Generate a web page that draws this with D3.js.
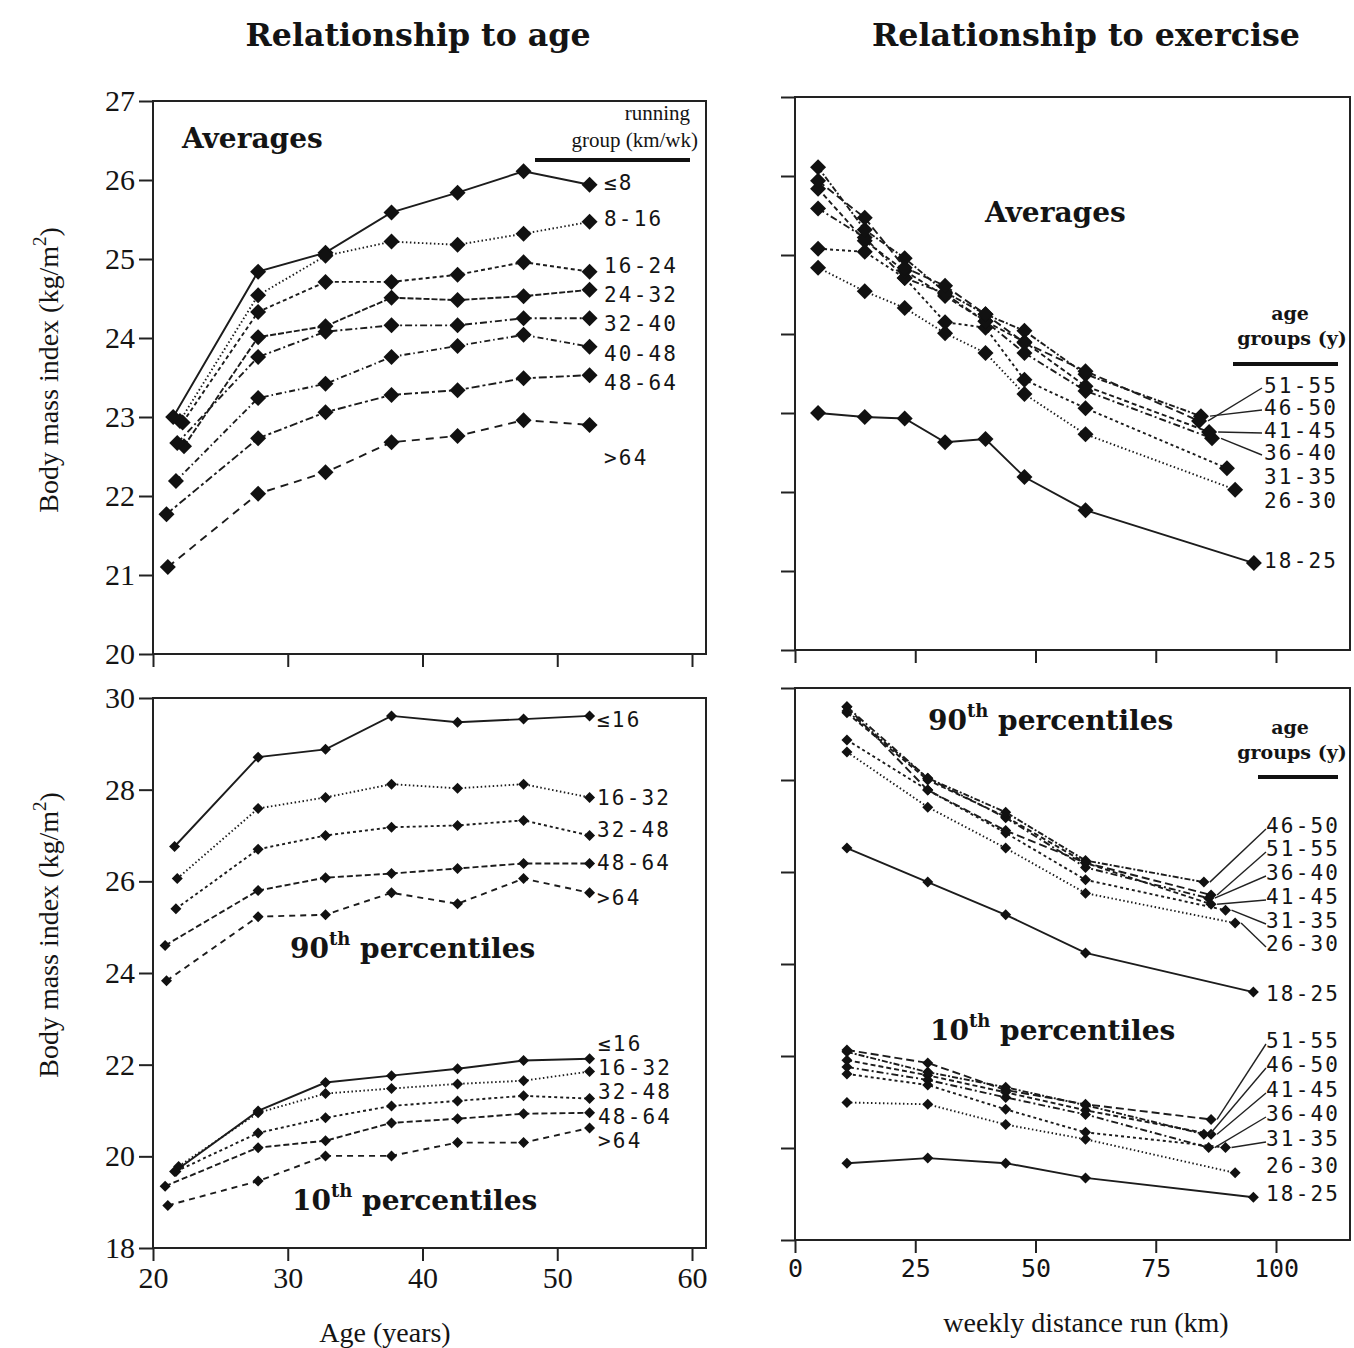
<!DOCTYPE html>
<html>
<head>
<meta charset="utf-8">
<style>
    body { margin: 0; background: #fff; }
    text { fill: #141414; }
    .tick text { font-family: "Liberation Serif", serif; font-size: 30px; }
    .tick line { stroke: #222; stroke-width: 2; }
    .xkm .tick text { font-family: "DejaVu Sans Mono", monospace; font-size: 25px; }
    .title { font-family: "DejaVu Serif", serif; font-weight: bold; font-size: 31px; }
    .ptitle { font-family: "DejaVu Serif", serif; font-weight: bold; font-size: 28px; }
    .grp { font-family: "DejaVu Sans Mono", monospace; font-size: 21px; letter-spacing: 2.2px; }
    .axt { font-family: "Liberation Serif", serif; font-size: 28px; }
    .hdr { font-family: "Liberation Serif", serif; font-size: 21px; }
    .hdrb { font-family: "DejaVu Serif", serif; font-weight: bold; font-size: 19px; }
</style>
<script src="https://d3js.org/d3.v7.min.js"></script>
</head>
<body>
<svg width="1354" height="1348"></svg>

<script>
// ---- data --------------------------------------------------------------
var ageGroups = ["18-25", "26-30", "31-35", "36-40", "41-45", "46-50", "51-55"];
var runGroupsAvg = ["≤8", "8-16", "16-24", "24-32", "32-40", "40-48", "48-64", ">64"];
var runGroupsPct = ["≤16", "16-32", "32-48", "48-64", ">64"];

// mean age of each age group (x on left panels); youngest group differs per running group
var ageMean = [21.5, 27.8, 32.8, 37.7, 42.6, 47.5, 52.4];
var youngAgeAvg = [21.5, 22.0, 22.2, 22.3, 21.8, 21.7, 21.0, 21.1];
var youngAge90 = [21.6, 21.8, 21.7, 20.9, 21.0];
var youngAge10 = [21.6, 21.9, 21.7, 20.9, 21.1];

// mean weekly km of each running group (x on right panels); top group differs per age group
var kmAvg = [4.8, 14.5, 22.8, 31.2, 39.6, 47.7, 60.4];
var kmTopAvg = [95.4, 91.5, 89.8, 86.7, 86.1, 84.4, 84.0];
var kmPct = [10.8, 27.6, 43.8, 60.4];
var kmTopPct = [95.3, 91.5, 89.5, 86.0, 86.5, 85.0, 86.5];

// average BMI, rows = running group (runGroupsAvg), cols = age group
var bmiAvg = [
    [23.00, 24.84, 25.08, 25.59, 25.84, 26.11, 25.94],
    [22.95, 24.54, 25.04, 25.22, 25.18, 25.32, 25.47],
    [22.93, 24.33, 24.71, 24.71, 24.80, 24.96, 24.84],
    [22.63, 24.01, 24.15, 24.51, 24.48, 24.53, 24.61],
    [22.67, 23.76, 24.08, 24.16, 24.16, 24.25, 24.25],
    [22.19, 23.24, 23.42, 23.76, 23.90, 24.04, 23.89],
    [21.77, 22.73, 23.06, 23.28, 23.34, 23.49, 23.53],
    [21.10, 22.03, 22.30, 22.68, 22.76, 22.96, 22.90]
];
// 90th percentile BMI, rows = running group (runGroupsPct), cols = age group
var bmi90 = [
    [26.76, 28.71, 28.88, 29.61, 29.47, 29.54, 29.61],
    [26.06, 27.59, 27.83, 28.12, 28.03, 28.12, 27.83],
    [25.40, 26.70, 27.00, 27.18, 27.22, 27.33, 27.00],
    [24.60, 25.80, 26.08, 26.17, 26.28, 26.39, 26.39],
    [23.83, 25.23, 25.27, 25.75, 25.51, 26.06, 25.75]
];
// 90th percentile BMI as drawn on the exercise panel, rows = age group, cols = running group
var bmi90ByAge = [
    [26.52, 25.78, 25.07, 24.24, 23.39],
    [28.61, 27.41, 26.52, 25.54, 24.89],
    [28.87, 27.78, 26.85, 25.83, 25.17],
    [29.59, 28.04, 27.18, 26.10, 25.43],
    [29.46, 28.00, 27.20, 26.20, 25.30],
    [29.50, 28.04, 27.30, 26.25, 25.78],
    [29.59, 27.78, 26.90, 26.20, 25.50]
];
// 10th percentile BMI, rows = running group (runGroupsPct), cols = age group
var bmi10 = [
    [19.67, 20.99, 21.61, 21.76, 21.91, 22.09, 22.13],
    [19.78, 20.95, 21.37, 21.48, 21.58, 21.65, 21.85],
    [19.67, 20.51, 20.84, 21.10, 21.21, 21.32, 21.26],
    [19.35, 20.19, 20.34, 20.73, 20.82, 20.93, 20.95],
    [18.93, 19.46, 20.01, 20.01, 20.30, 20.30, 20.62]
];

// ---- styles ---------------------------------------------------------------
var dashRunAvg = [null, "1.5,2.5", "4,3", "6,2", "7,3,2,3", "6,3,1.5,3", "8,3,3,3", "8,6"];
var dashRunPct = [null, "1.5,2.5", "3,3", "6,3", "6,5"];
var dashAge = [null, "1.5,2.5", "3,3", "7,3,2,3", "5,3", "6,2,2,2", "8,4"];

var svg = d3.select("svg");

// scales
var xAge = d3.scaleLinear().domain([20, 60]).range([153, 692]);
var xKm = d3.scaleLinear().domain([0, 100]).range([795, 1276]);
var yAvgL = d3.scaleLinear().domain([20, 27]).range([654, 101]);
var yAvgR = d3.scaleLinear().domain([20, 27]).range([650, 97]);
var yPctL = d3.scaleLinear().domain([18, 30]).range([1248, 698]);
var yPctR = d3.scaleLinear().domain([18, 30]).range([1240, 688]);

function diamond(r) {
    return "M0," + (-r) + "L" + r + ",0L0," + r + "L" + (-r) + ",0Z";
}

// frame + ticks of one panel
function panel(x, y, right, xTicks, yTicks, xLab, yLab, cls) {
    var x0 = x.range()[0], y0 = y.range()[0], y1 = y.range()[1];
    var g = svg.append("g");
    g.append("rect").attr("x", x0).attr("y", y1).attr("width", right - x0).attr("height", y0 - y1)
        .attr("fill", "none").attr("stroke", "#222").attr("stroke-width", 2);

    var ax = g.append("g").attr("transform", "translate(" + x0 + ",0)")
        .call(d3.axisLeft(y).tickValues(yTicks).tickSize(14).tickPadding(4)
            .tickFormat(yLab ? d3.format("d") : ""));
    ax.select(".domain").remove();

    var bx = g.append("g").attr("class", cls).attr("transform", "translate(0," + y0 + ")")
        .call(d3.axisBottom(x).tickValues(xTicks).tickSize(13).tickPadding(6)
            .tickFormat(xLab ? d3.format("d") : ""));
    bx.select(".domain").remove();
    return g;
}

function series(pts, dash, r) {
    var g = svg.append("g");
    g.append("path").datum(pts)
        .attr("d", d3.line().x(function(d){ return d[0]; }).y(function(d){ return d[1]; }))
        .attr("fill", "none").attr("stroke", "#1c1c1c").attr("stroke-width", 1.9)
        .attr("stroke-dasharray", dash);
    g.selectAll(null).data(pts).enter().append("path")
        .attr("d", diamond(r))
        .attr("transform", function(d){ return "translate(" + d[0] + "," + d[1] + ")"; })
        .attr("fill", "#111");
}

function label(x, y, txt) {
    svg.append("text").attr("class", "grp").attr("x", x).attr("y", y).attr("dy", "0.36em").text(txt);
}

function leader(x1, y1, x2, y2) {
    svg.append("line").attr("x1", x1).attr("y1", y1).attr("x2", x2).attr("y2", y2)
        .attr("stroke", "#222").attr("stroke-width", 1.4);
}

function pctTitle(x, y, num) {
    var t = svg.append("text").attr("class", "ptitle").attr("x", x).attr("y", y).attr("dy", "0.35em");
    t.append("tspan").text(num);
    t.append("tspan").attr("font-size", "18px").attr("dy", "-0.7em").text("th");
    t.append("tspan").attr("dy", "0.45em").text(" percentiles");
}

// ---- panels ---------------------------------------------------------------
panel(xAge, yAvgL, 706, [20, 30, 40, 50, 60], d3.range(20, 28), false, true, "xage");
panel(xKm, yAvgR, 1350, [0, 25, 50, 75, 100], d3.range(20, 28), false, false, "xkm");
panel(xAge, yPctL, 706, [20, 30, 40, 50, 60], d3.range(18, 31, 2), true, true, "xage");
panel(xKm, yPctR, 1350, [0, 25, 50, 75, 100], d3.range(18, 31, 2), true, false, "xkm");

// top left: averages by age
bmiAvg.forEach(function(row, i) {
    var pts = row.map(function(v, j) {
        return [xAge(j === 0 ? youngAgeAvg[i] : ageMean[j]), yAvgL(v)];
    });
    series(pts, dashRunAvg[i], 8);
});

// top right: averages by distance
ageGroups.forEach(function(a, j) {
    var pts = bmiAvg.map(function(row, i) {
        return [xKm(i < kmAvg.length ? kmAvg[i] : kmTopAvg[j]), yAvgR(row[j])];
    });
    series(pts, dashAge[j], 8);
});

// bottom left: 90th and 10th by age
[bmi90, bmi10].forEach(function(m, k) {
    var young = k === 0 ? youngAge90 : youngAge10;
    m.forEach(function(row, i) {
        var pts = row.map(function(v, j) {
            return [xAge(j === 0 ? young[i] : ageMean[j]), yPctL(v)];
        });
        series(pts, dashRunPct[i], 5.5);
    });
});

// bottom right: 90th and 10th by distance
ageGroups.forEach(function(a, j) {
    var p90 = bmi90ByAge[j].map(function(v, i) {
        return [xKm(i < kmPct.length ? kmPct[i] : kmTopPct[j]), yPctR(v)];
    });
    series(p90, dashAge[j], 5.5);
    var p10 = bmi10.map(function(row, i) {
        return [xKm(i < kmPct.length ? kmPct[i] : kmTopPct[j]), yPctR(row[j])];
    });
    series(p10, dashAge[j], 5.5);
});

// ---- labels ---------------------------------------------------------------
var labYTopL = [182, 218, 265, 294, 323, 353, 382, 457];
runGroupsAvg.forEach(function(t, i) { label(604, labYTopL[i], t); });

var lab90L = [719, 797, 829, 862, 897];
var lab10L = [1043, 1067, 1091, 1116, 1140];
runGroupsPct.forEach(function(t, i) { label(597, lab90L[i], t); label(598, lab10L[i], t); });

// top right, order as printed
var orderTopR = [6, 5, 4, 3, 2, 1, 0];
var labYTopR = [385, 407, 430, 452, 476, 500, 560];
orderTopR.forEach(function(j, k) {
    label(1264, labYTopR[k], ageGroups[j]);
    if (k < 4) {
        var last = bmiAvg.length - 1;
        leader(1262, labYTopR[k] + 3, xKm(kmTopAvg[j]) + 9, yAvgR(bmiAvg[last][j]));
    }
});

var order90R = [5, 6, 3, 4, 2, 1, 0];
var labY90R = [825, 848, 872, 896, 920, 943, 993];
order90R.forEach(function(j, k) {
    label(1266, labY90R[k], ageGroups[j]);
    if (k < 6) leader(1266, labY90R[k] + 4, xKm(kmTopPct[j]) + 6, yPctR(bmi90ByAge[j][4]));
});

var order10R = [6, 5, 4, 3, 2, 1, 0];
var labY10R = [1040, 1064, 1089, 1113, 1138, 1165, 1193];
order10R.forEach(function(j, k) {
    label(1266, labY10R[k], ageGroups[j]);
    if (k < 5) leader(1266, labY10R[k] + 4, xKm(kmTopPct[j]) + 6, yPctR(bmi10[4][j]));
});

// legend headers
svg.append("text").attr("class", "hdr").attr("x", 690).attr("y", 120).attr("text-anchor", "end").text("running");
svg.append("text").attr("class", "hdr").attr("x", 698).attr("y", 147).attr("text-anchor", "end").text("group (km/wk)");
svg.append("line").attr("x1", 535).attr("x2", 690).attr("y1", 160).attr("y2", 160).attr("stroke", "#111").attr("stroke-width", 4);

[[313, 338, 364, 1233], [727, 752, 777, 1258]].forEach(function(h) {
    svg.append("text").attr("class", "hdrb").attr("x", 1290).attr("y", h[0]).attr("dy", "0.35em").attr("text-anchor", "middle").text("age");
    svg.append("text").attr("class", "hdrb").attr("x", 1292).attr("y", h[1]).attr("dy", "0.35em").attr("text-anchor", "middle").text("groups (y)");
    svg.append("line").attr("x1", h[3]).attr("x2", 1338).attr("y1", h[2]).attr("y2", h[2]).attr("stroke", "#111").attr("stroke-width", 4);
});

// titles
svg.append("text").attr("class", "title").attr("x", 418).attr("y", 35).attr("dy", "0.35em")
    .attr("text-anchor", "middle").attr("textLength", 345).attr("lengthAdjust", "spacingAndGlyphs").text("Relationship to age");
svg.append("text").attr("class", "title").attr("x", 1086).attr("y", 35).attr("dy", "0.35em")
    .attr("text-anchor", "middle").attr("textLength", 428).attr("lengthAdjust", "spacingAndGlyphs").text("Relationship to exercise");

svg.append("text").attr("class", "ptitle").attr("x", 182).attr("y", 138).attr("dy", "0.35em").text("Averages");
svg.append("text").attr("class", "ptitle").attr("x", 985).attr("y", 212).attr("dy", "0.35em").text("Averages");
pctTitle(290, 948, "90");
pctTitle(292, 1200, "10");
pctTitle(928, 720, "90");
pctTitle(930, 1030, "10");

// axis titles
[370, 935].forEach(function(cy) {
    var t = svg.append("text").attr("class", "axt").attr("text-anchor", "middle")
        .attr("transform", "translate(48," + cy + ") rotate(-90)").attr("dy", "0.35em");
    t.append("tspan").text("Body mass index (kg/m");
    t.append("tspan").attr("font-size", "19px").attr("dy", "-0.6em").text("2");
    t.append("tspan").attr("dy", "0.45em").text(")");
});
svg.append("text").attr("class", "axt").attr("x", 385).attr("y", 1332).attr("dy", "0.35em")
    .attr("text-anchor", "middle").text("Age (years)");
svg.append("text").attr("class", "axt").attr("x", 1086).attr("y", 1322).attr("dy", "0.35em")
    .attr("text-anchor", "middle").text("weekly distance run (km)");
</script>
</body>
</html>
